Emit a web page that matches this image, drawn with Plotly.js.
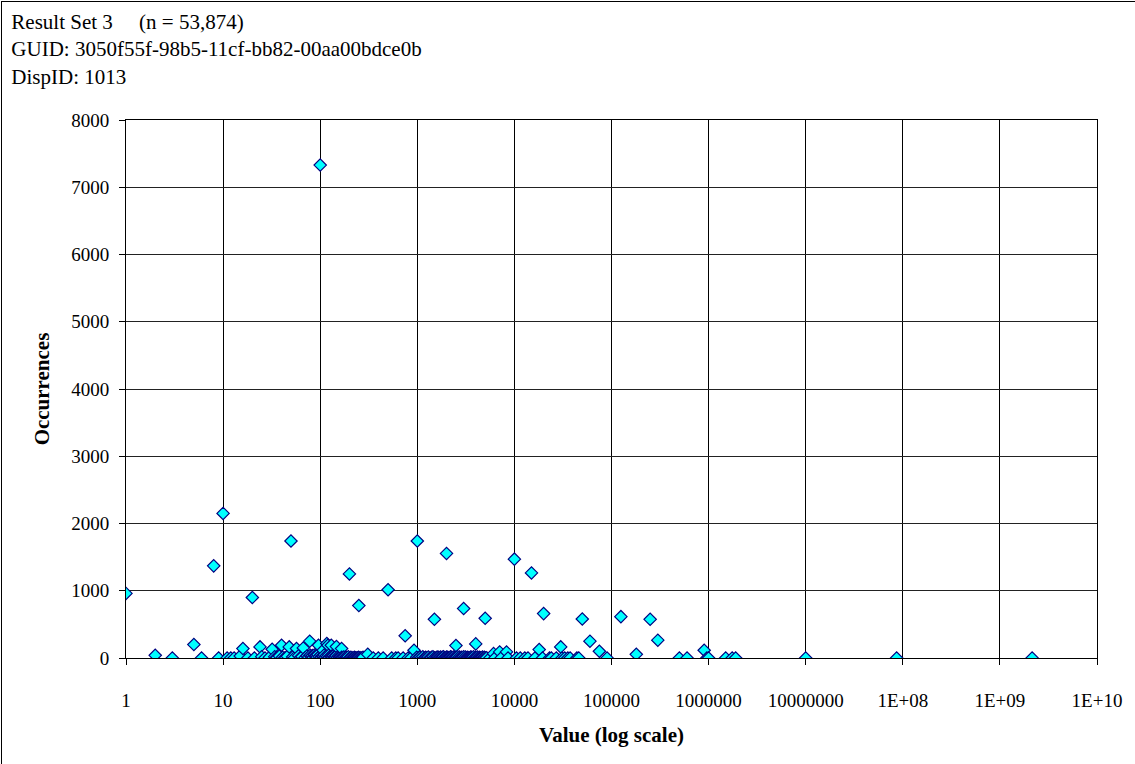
<!DOCTYPE html>
<html>
<head>
<meta charset="utf-8">
<script src="https://cdn.plot.ly/plotly-3.0.1.min.js"></script>
<style>
  html, body { margin: 0; padding: 0; background: #fff; }
  #wrap { position: relative; width: 1135px; height: 764px; }
  #chart { width: 1135px; height: 764px; }
  #frame { position: absolute; left: 1px; top: 1px; width: 1200px; height: 800px;
           border-left: 1px solid #000; border-top: 1px solid #000; pointer-events: none; }
</style>
</head>
<body>
<div id="wrap">
  <div id="chart"></div>
  <div id="frame"></div>
</div>
<script>
// Distinct, clearly separated points (value, occurrences)
const sparseValues = [1, 2, 3, 5, 6, 8, 9, 10, 11, 12, 13, 15, 16, 18, 20, 21, 24, 25, 27, 30,
  32, 35, 40, 43, 48, 50, 57, 67, 78, 96, 100, 107, 117, 120, 130, 147, 166, 200, 250, 309,
  352, 397, 445, 500, 545, 600, 635, 715, 750, 805, 860, 925, 1000, 1500, 2000, 2500, 3000, 4000, 5000, 5600,
  6100, 6300, 7050, 7300, 8300, 8600, 10000, 10500, 11500, 12800, 13800, 15000, 16300, 18000, 19500, 20000, 23000, 24000, 27000, 30000,
  31000, 33000, 35500, 37500, 44000, 46000, 50000, 60000, 75000, 90000, 125000, 180000, 250000, 300000, 500000, 600000, 900000, 960000, 1000000, 1500000,
  1750000, 1900000, 10000000, 86400000, 2147483647];
const sparseCounts = [960, 40, 0, 200, 0, 1370, 0, 2150, 0, 0, 0, 30, 140, 0, 900, 0, 165, 20, 0, 10,
  130, 0, 190, 0, 165, 1740, 140, 150, 250, 190, 7330, 115, 215, 190, 190, 170, 140, 1250, 780, 55,
  0, 0, 0, 1015, 0, 0, 0, 0, 330, 0, 0, 115, 1740, 575, 1555, 185, 735, 210, 590, 0,
  65, 0, 90, 0, 90, 0, 1470, 0, 0, 0, 0, 1265, 0, 125, 0, 660, 0, 0, 0, 165,
  0, 0, 0, 0, 0, 0, 580, 250, 100, 0, 615, 55, 575, 265, 0, 0, 115, 0, 0, 0,
  0, 0, 0, 0, 0];

// Dense run of values between roughly 30 and 280 (low counts)
const denseLowValues = [34, 36, 38, 41, 44, 46, 52, 54, 60, 63, 65, 70, 73, 76, 79,
  81, 83, 85, 87, 89, 91, 93, 95, 98, 101, 103, 105, 108, 110, 113, 116, 119, 122, 125, 128,
  131, 134, 137, 140, 143, 146, 150, 154, 158, 162, 166, 170, 175, 180, 185, 190, 195, 201, 207, 213,
  219, 225, 231, 237, 243, 249, 255, 262, 269, 276];
const denseLowCounts = [20, 5, 30, 10, 0, 25, 15, 0, 35, 10, 20, 5, 30, 15, 40,
  20, 35, 10, 45, 25, 30, 15, 50, 20, 40, 10, 30, 25, 45, 15, 35, 20, 40, 10, 30,
  25, 15, 35, 20, 10, 30, 5, 25, 15, 20, 10, 5, 15, 0, 10, 5, 20, 0, 10, 5,
  0, 10, 5, 0, 5, 10, 0, 5, 0, 10];

// Dense run of values between roughly 1000 and 5200 (low counts)
const denseHighValues = [985, 1020, 1060, 1100, 1140, 1180, 1220, 1260, 1300, 1350, 1400, 1450, 1500, 1550, 1600, 1650,
  1700, 1740, 1780, 1820, 1860, 1900, 1950, 2000, 2050, 2100, 2150, 2200, 2250, 2300, 2360, 2420, 2480, 2540, 2600, 2660,
  2720, 2790, 2860, 2930, 3000, 3070, 3140, 3220, 3300, 3380, 3460, 3540, 3620, 3710, 3800, 3890, 3980, 4070, 4170, 4270,
  4370, 4470, 4580, 4690, 4800, 4920, 5050, 5180];
const denseHighCounts = [10, 0, 15, 5, 20, 0, 10, 5, 15, 0, 10, 20, 5, 0, 15, 10,
  5, 15, 0, 10, 20, 5, 0, 15, 10, 5, 0, 20, 10, 5, 15, 0, 10, 5, 20, 0,
  15, 5, 10, 0, 20, 5, 15, 0, 10, 5, 0, 15, 10, 5, 20, 0, 10, 5, 15, 0,
  10, 5, 0, 15, 5, 10, 0, 5];

const xTickVals = [1, 10, 100, 1000, 10000, 100000, 1000000, 10000000, 100000000, 1000000000, 10000000000];
const xTickText = ['1', '10', '100', '1000', '10000', '100000', '1000000', '10000000', '1E+08', '1E+09', '1E+10'];

// Combine and sort by value so points are drawn left to right
const pts = [];
function addPts(xs, ys) { for (let i = 0; i < Math.min(xs.length, ys.length); i++) pts.push([xs[i], ys[i]]); }
addPts(sparseValues, sparseCounts);
addPts(denseLowValues, denseLowCounts);
addPts(denseHighValues, denseHighCounts);
pts.sort((a, b) => a[0] - b[0]);

const FONT = 'Liberation Serif, Times New Roman, serif';

const trace = {
  type: 'scatter', mode: 'markers',
  x: pts.map(p => p[0]), y: pts.map(p => p[1]),
  marker: { symbol: 'diamond', size: 9.5, color: '#00FFFF', line: { color: '#000080', width: 1.2 } },
  hoverinfo: 'x+y', showlegend: false
};

const layout = {
  width: 1135, height: 764,
  margin: { l: 126, r: 38, t: 120, b: 106 },
  paper_bgcolor: '#fff', plot_bgcolor: '#fff',
  font: { family: FONT, color: '#000', size: 19 },
  title: {
    text: 'Result Set 3&nbsp;&nbsp;&nbsp;&nbsp; (n = 53,874)<br>GUID: 3050f55f-98b5-11cf-bb82-00aa00bdce0b<br>DispID: 1013',
    font: { family: FONT, size: 21, color: '#000' },
    xref: 'container', yref: 'container', x: 0.01, xanchor: 'left', y: 0.962, yanchor: 'top',
    automargin: false
  },
  xaxis: {
    type: 'log', range: [0, 10],
    tickvals: xTickVals, ticktext: xTickText,
    showgrid: true, gridcolor: '#000', gridwidth: 1,
    showline: true, linecolor: '#000', linewidth: 1, mirror: true,
    ticks: 'outside', ticklen: 6, tickcolor: '#000',
    ticklabelstandoff: 19,
    tickfont: { family: FONT, size: 19, color: '#000' },
    zeroline: false,
    title: { text: '<b>Value (log scale)</b>', font: { family: FONT, size: 21, color: '#000' }, standoff: 17 }
  },
  yaxis: {
    range: [0, 8000], dtick: 1000, tickformat: 'd',
    showgrid: true, gridcolor: '#222', gridwidth: 1,
    showline: true, linecolor: '#000', linewidth: 1, mirror: true,
    ticks: 'outside', ticklen: 6, tickcolor: '#000',
    ticklabelstandoff: 6,
    tickfont: { family: FONT, size: 19, color: '#000' },
    zeroline: false,
    title: { text: '<b>Occurrences</b>', font: { family: FONT, size: 21, color: '#000' }, standoff: 15 }
  }
};

Plotly.newPlot('chart', [trace], layout, { displayModeBar: false, staticPlot: true });
</script>
</body>
</html>
